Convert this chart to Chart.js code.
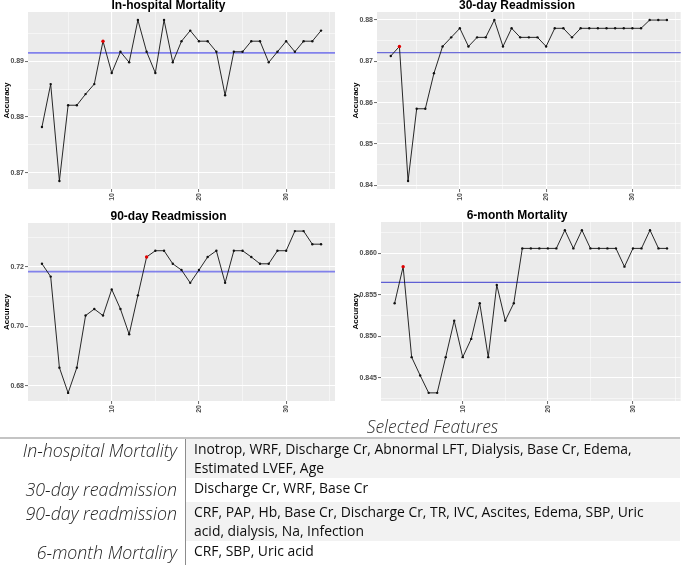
<!DOCTYPE html>
<html>
<head>
<meta charset="utf-8">
<script src="https://cdn.jsdelivr.net/npm/chart.js@4.4.1/dist/chart.umd.min.js"></script>
<style>
  body { margin: 0; background: #fff; width: 685px; height: 565px; overflow: hidden; position: relative; }
  canvas { position: absolute; }
  #selTitle { position: absolute; left: 330px; width: 205px; top: 414px; text-align: center;
    font: italic 300 17.5px "Open Sans", "Liberation Sans", sans-serif; color: #2e2e2e; }
  #feat { position: absolute; left: 0; top: 437px; border-collapse: collapse; border-top: 2px solid #c4c4c4; }
  #feat td { padding: 0; line-height: 19.5px; vertical-align: top; white-space: nowrap; }
  #feat td.lab { width: 177px; padding-right: 8px; text-align: right; border-right: 1px solid #8c8c8c;
    font: italic 300 17.8px "Open Sans", "Liberation Sans", sans-serif; color: #1e1e1e; }
  #feat td.lab span { position: relative; top: -1.5px; }
  #feat td.val { width: 486px; padding-left: 8px; font: 13.9px "Open Sans", "Liberation Sans", sans-serif; color: #0d0d0d; }
  #feat tr.shade td.val { background: #f2f2f2; }
</style>
</head>
<body>
<canvas id="c1" width="340" height="205" style="left:0;top:0"></canvas>
<canvas id="c2" width="345" height="205" style="left:340px;top:0"></canvas>
<canvas id="c3" width="340" height="206" style="left:0;top:211px"></canvas>
<canvas id="c4" width="345" height="207" style="left:340px;top:210px"></canvas>

<div id="selTitle">Selected Features</div>
<table id="feat">
  <tr class="shade" style="height:40px"><td class="lab"><span>In-hospital Mortality</span></td>
    <td class="val">Inotrop, WRF, Discharge Cr, Abnormal LFT, Dialysis, Base Cr, Edema,<br>Estimated LVEF, Age</td></tr>
  <tr style="height:23px"><td class="lab"><span>30-day readmission</span></td>
    <td class="val">Discharge Cr, WRF, Base Cr</td></tr>
  <tr class="shade" style="height:39px"><td class="lab"><span>90-day readmission</span></td>
    <td class="val">CRF, PAP, Hb, Base Cr, Discharge Cr, TR, IVC, Ascites, Edema, SBP, Uric<br>acid, dialysis, Na, Infection</td></tr>
  <tr style="height:23px"><td class="lab"><span>6-month Mortaliry</span></td>
    <td class="val">CRF, SBP, Uric acid</td></tr>
</table>

<script>
// number of selected features (x axis)
var nFeatures = [2,3,4,5,6,7,8,9,10,11,12,13,14,15,16,17,18,19,20,21,22,23,24,25,26,27,28,29,30,31,32,33,34];

// accuracy per feature count
var inHospital = [0.8782,0.8859,0.8685,0.8821,0.8821,0.8841,0.8859,0.8936,0.8879,0.8917,0.8898,0.8974,0.8917,
                  0.8879,0.8974,0.8898,0.8936,0.8955,0.8936,0.8936,0.8917,0.8839,0.8917,0.8917,0.8936,0.8936,
                  0.8898,0.8917,0.8936,0.8917,0.8936,0.8936,0.8955];
var readmit30 = [0.8713,0.8736,0.8410,0.8585,0.8585,0.8671,0.8736,0.8758,0.8780,0.8736,0.8758,0.8758,0.8800,
                 0.8736,0.8780,0.8758,0.8758,0.8758,0.8736,0.8780,0.8780,0.8758,0.8780,0.8780,0.8780,0.8780,
                 0.8780,0.8780,0.8780,0.8780,0.8800,0.8800,0.8800];
var readmit90 = [0.7210,0.7167,0.6861,0.6776,0.6861,0.7036,0.7058,0.7036,0.7124,0.7058,0.6973,0.7104,0.7233,
                 0.7254,0.7254,0.7210,0.7189,0.7146,0.7189,0.7233,0.7254,0.7146,0.7254,0.7254,0.7233,0.7210,
                 0.7210,0.7254,0.7254,0.7320,0.7320,0.7276,0.7276];
var mortality6m = [0.8540,0.8584,0.8475,0.8453,0.8432,0.8432,0.8475,0.8519,0.8475,0.8497,0.8540,0.8475,0.8562,
                   0.8519,0.8540,0.8606,0.8606,0.8606,0.8606,0.8606,0.8628,0.8606,0.8628,0.8606,0.8606,0.8606,
                   0.8606,0.8584,0.8606,0.8606,0.8628,0.8606,0.8606];

// accuracy with all features (horizontal line) and the chosen feature count (red point)
var baseline = [0.8915, 0.8721, 0.7184, 0.8565];
var bestCount = [9, 3, 14, 3];

var titles = ['In-hospital Mortality', '30-day Readmission', '90-day Readmission', '6-month Mortality'];

// tick values
var xMajor = [10, 20, 30];
var xMinor = [5, 15, 25, 35];
var yMajor = [[0.87, 0.88, 0.89], [0.84, 0.85, 0.86, 0.87, 0.88], [0.68, 0.70, 0.72], [0.845, 0.850, 0.855, 0.860]];
var yMinor = [[0.875, 0.885, 0.895], [0.845, 0.855, 0.865, 0.875], [0.69, 0.71, 0.73], [0.8425, 0.8475, 0.8525, 0.8575, 0.8625]];
var yDigits = [2, 2, 2, 3];

function isIn(v, list) {
    for (var i = 0; i < list.length; i++) {
        if (Math.abs(list[i] - v) < 1e-9) return true;
    }
    return false;
}

// grey ggplot panel + blue reference line
var panelBg = {
    id: 'panelBg',
    beforeDraw: function(chart) {
        var a = chart.chartArea, ctx = chart.ctx;
        ctx.save();
        ctx.fillStyle = '#ebebeb';
        ctx.fillRect(a.left, a.top, a.right - a.left, a.bottom - a.top);
        ctx.restore();
    },
    beforeDatasetsDraw: function(chart, args, opts) {
        var a = chart.chartArea, ctx = chart.ctx;
        var y = chart.scales.y.getPixelForValue(opts.value);
        ctx.save();
        ctx.strokeStyle = opts.color;
        ctx.lineWidth = opts.width;
        ctx.beginPath();
        ctx.moveTo(a.left, y);
        ctx.lineTo(a.right, y);
        ctx.stroke();
        ctx.restore();
    }
};

var series = [inHospital, readmit30, readmit90, mortality6m];
var yAxisW = [26, 26, 26, 30];
var padL = [2, 11, 2, 11];
var padR = [5, 2, 5, 2];
var lineW = [1.8, 1.3, 1.8, 1.3];
var lineCol = ['rgba(110,110,235,0.85)', 'rgba(95,95,215,0.9)', 'rgba(110,110,235,0.85)', 'rgba(80,80,210,0.9)'];

for (var p = 0; p < 4; p++) {
    (function(p) {
        var vals = series[p];
        var pts = [];
        var dmin = Infinity, dmax = -Infinity;
        for (var i = 0; i < nFeatures.length; i++) {
            pts.push({x: nFeatures[i], y: vals[i]});
            dmin = Math.min(dmin, vals[i]);
            dmax = Math.max(dmax, vals[i]);
        }
        var xr = nFeatures[nFeatures.length - 1] - nFeatures[0];
        var yr = dmax - dmin;
        var tickFont = {family: 'Liberation Sans', size: 7, weight: 'bold'};

        new Chart(document.getElementById('c' + (p + 1)), {
            type: 'line',
            data: {
                datasets: [{
                    data: pts,
                    borderColor: '#111',
                    borderWidth: 0.9,
                    pointRadius: function(c) { return c.raw && c.raw.x === bestCount[p] ? 1.7 : 1.2; },
                    pointBackgroundColor: function(c) { return c.raw && c.raw.x === bestCount[p] ? '#e00000' : '#111'; },
                    pointBorderWidth: 0,
                    tension: 0
                }]
            },
            options: {
                responsive: false,
                animation: false,
                layout: {padding: {left: padL[p], right: padR[p], top: 0, bottom: 0}},
                plugins: {
                    legend: {display: false},
                    tooltip: {enabled: false},
                    title: {
                        display: true,
                        text: titles[p],
                        color: '#000',
                        font: {family: 'Liberation Sans', size: 12, weight: 'bold', lineHeight: 1},
                        padding: {top: 0, bottom: 0}
                    },
                    panelBg: {value: baseline[p], color: lineCol[p], width: lineW[p]}
                },
                scales: {
                    x: {
                        type: 'linear',
                        min: nFeatures[0] - 0.05 * xr,
                        max: nFeatures[nFeatures.length - 1] + 0.05 * xr,
                        afterBuildTicks: function(s) {
                            s.ticks = xMajor.concat(xMinor).map(function(v) { return {value: v}; });
                        },
                        afterFit: function(s) { s.height = 16; },
                        border: {display: false},
                        grid: {
                            color: '#fff',
                            lineWidth: function(c) { return c.tick && isIn(c.tick.value, xMajor) ? 1.1 : 0.5; },
                            tickLength: 3,
                            tickColor: function(c) { return c.tick && isIn(c.tick.value, xMajor) ? '#444' : 'rgba(0,0,0,0)'; },
                            tickWidth: 0.8
                        },
                        ticks: {
                            autoSkip: false,
                            minRotation: 90,
                            maxRotation: 90,
                            padding: 1,
                            color: '#4d4d4d',
                            font: tickFont,
                            callback: function(v) { return isIn(v, xMajor) ? String(v) : ''; }
                        }
                    },
                    y: {
                        min: dmin - 0.05 * yr,
                        max: dmax + 0.05 * yr,
                        afterBuildTicks: function(s) {
                            s.ticks = yMajor[p].concat(yMinor[p]).map(function(v) { return {value: v}; });
                        },
                        afterFit: function(s) { s.width = yAxisW[p]; },
                        border: {display: false},
                        title: {
                            display: true,
                            text: 'Accuracy',
                            color: '#000',
                            font: {family: 'Liberation Sans', size: 8, weight: 'bold'},
                            padding: 0
                        },
                        grid: {
                            color: '#fff',
                            lineWidth: function(c) { return c.tick && isIn(c.tick.value, yMajor[p]) ? 1.1 : 0.5; },
                            tickLength: 3,
                            tickColor: function(c) { return c.tick && isIn(c.tick.value, yMajor[p]) ? '#444' : 'rgba(0,0,0,0)'; },
                            tickWidth: 0.8
                        },
                        ticks: {
                            autoSkip: false,
                            padding: 1,
                            color: '#4d4d4d',
                            font: tickFont,
                            callback: function(v) { return isIn(v, yMajor[p]) ? v.toFixed(yDigits[p]) : ''; }
                        }
                    }
                }
            },
            plugins: [panelBg]
        });
    })(p);
}
</script>
</body>
</html>
